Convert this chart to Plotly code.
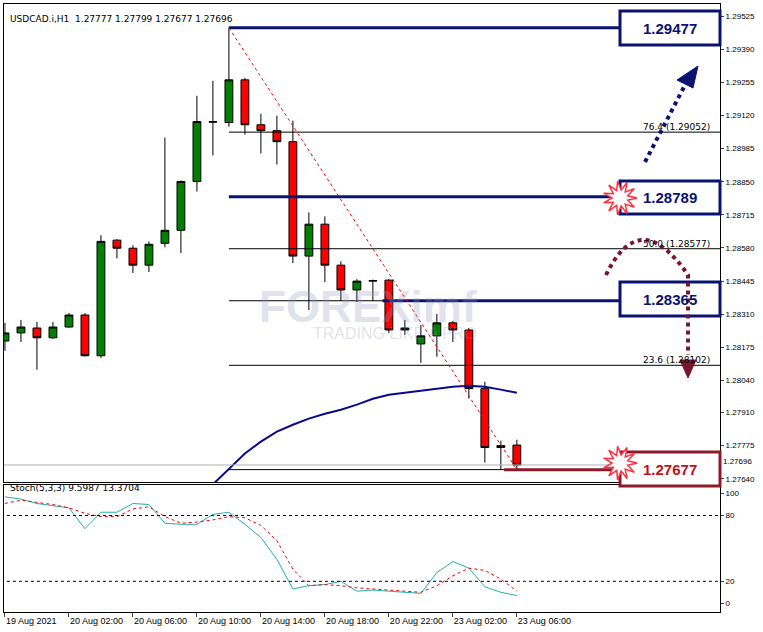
import math
import plotly.graph_objects as go
from plotly.subplots import make_subplots

times = ["19 Aug 2021", "20 Aug 02:00", "20 Aug 06:00", "20 Aug 10:00", "20 Aug 14:00",
         "20 Aug 18:00", "20 Aug 22:00", "23 Aug 02:00", "23 Aug 06:00"]
opens  = [1.28201,1.28234,1.28254,1.28214,1.28258,1.28307,1.28141,1.28612,1.28579,1.28510,1.28599,
          1.28652,1.28851,1.29095,1.29091,1.29265,1.29082,1.29058,1.29013,1.28547,1.28677,1.28510,
          1.28409,1.28445,1.28449,1.28246,1.28189,1.28222,1.28275,1.28246,1.28007,1.27767,1.27777]
highs  = [1.28275,1.28287,1.28279,1.28279,1.28315,1.28315,1.28632,1.28616,1.28591,1.28607,1.29030,
          1.28855,1.29200,1.29261,1.29477,1.29273,1.29127,1.29119,1.29099,1.28725,1.28709,1.28526,
          1.28453,1.28451,1.28453,1.28287,1.28266,1.28311,1.28283,1.28254,1.28035,1.27795,1.27799]
lows   = [1.28161,1.28197,1.28084,1.28210,1.28255,1.28138,1.28132,1.28538,1.28478,1.28482,1.28583,
          1.28559,1.28810,1.28957,1.29074,1.29042,1.28965,1.28920,1.28518,1.28327,1.28441,1.28364,
          1.28360,1.28364,1.28234,1.28226,1.28112,1.28137,1.28197,1.27966,1.27706,1.27678,1.27677]
closes = [1.28234,1.28258,1.28214,1.28258,1.28307,1.28141,1.28607,1.28579,1.28510,1.28595,1.28652,
          1.28851,1.29095,1.29093,1.29265,1.29082,1.29058,1.29013,1.28547,1.28677,1.28510,1.28409,
          1.28445,1.28447,1.28246,1.28254,1.28222,1.28275,1.28246,1.28007,1.27767,1.27775,1.27696]
ma_start = 13
ma_vals = [1.27617,1.27682,1.27743,1.27791,1.27832,1.27860,1.27885,1.27905,1.27921,1.27942,
           1.27966,1.27982,1.27990,1.27998,1.28007,1.28015,1.28019,1.28015,1.28003,1.27990]
stoch_k = [97,95,91,89,87,68,83,83,91,90,73,72,72,81,83,72,60,40,13,16,17,20,11,12,11,10,9,28,38,32,15,10,7]
stoch_d = [91,94,92,90,87,82,79,79,86,88,79,73,74,76,79,78,71,57,31,16,17,16,14,13,12,11,10,16,25,32,30,22,11]
fib_levels = [1.29477,1.29052,1.28789,1.28577,1.28365,1.28102,1.27677]
fib_names = ["100.0","76.4","61.8","50.0","38.2","23.6","0.0"]
box_levels = [1.29477,1.28789,1.28365]
target_level = 1.27677
last_price = 1.27696
yticks = [1.29525,1.29390,1.29255,1.29120,1.28985,1.28850,1.28715,1.28580,1.28445,1.28310,
          1.28175,1.28040,1.27910,1.27775,1.27640]

n = len(opens)
xs = list(range(n))
NAVY = "#0a1470"

fig = make_subplots(rows=2, cols=1, shared_xaxes=True, vertical_spacing=0.004,
                    row_heights=[0.79, 0.21])
fig.add_trace(go.Candlestick(x=xs, open=opens, high=highs, low=lows, close=closes,
    increasing=dict(fillcolor="#008000", line=dict(color="black", width=1)),
    decreasing=dict(fillcolor="#ff0000", line=dict(color="black", width=1)),
    whiskerwidth=0, showlegend=False, hoverinfo="skip"), row=1, col=1)
fig.add_trace(go.Scatter(x=xs[ma_start:], y=ma_vals, mode="lines",
    line=dict(color="#0a0a8c", width=2), showlegend=False), row=1, col=1)

for lv in fib_levels:
    fig.add_shape(type="line", x0=14, x1=44.7, y0=lv, y1=lv, xref="x", yref="y",
                  line=dict(color="black", width=1))
for lv, nm in zip(fib_levels, fib_names):
    if nm in ("76.4", "50.0", "23.6"):
        fig.add_annotation(x=44.2, y=lv, xref="x", yref="y", text=f"{nm} ({lv:.5f})",
                           showarrow=False, xanchor="right", yanchor="bottom",
                           font=dict(size=9, color="black", family="DejaVu Sans"), yshift=-2)
fig.add_shape(type="line", x0=14, x1=38.4, y0=box_levels[0], y1=box_levels[0], line=dict(color=NAVY, width=3))
fig.add_shape(type="line", x0=14, x1=38.4, y0=box_levels[1], y1=box_levels[1], line=dict(color=NAVY, width=3))
fig.add_shape(type="line", x0=23.6, x1=38.4, y0=box_levels[2], y1=box_levels[2], line=dict(color=NAVY, width=3))
fig.add_shape(type="line", x0=31.2, x1=38.4, y0=target_level, y1=target_level, line=dict(color="#8b1a2b", width=3))
fig.add_shape(type="line", x0=-1, x1=44.7, y0=last_price, y1=last_price, line=dict(color="#b0b0b0", width=1))
fig.add_shape(type="line", x0=14, x1=32, y0=highs[14], y1=target_level, line=dict(color="red", width=1, dash="dot"))

fig.add_trace(go.Scatter(x=xs, y=stoch_k, mode="lines", line=dict(color="#20b2aa", width=1), showlegend=False), row=2, col=1)
fig.add_trace(go.Scatter(x=xs, y=stoch_d, mode="lines", line=dict(color="red", width=1, dash="dot"), showlegend=False), row=2, col=1)
for lv in (80, 20):
    fig.add_shape(type="line", x0=-1, x1=44.7, y0=lv, y1=lv, xref="x2", yref="y2",
                  line=dict(color="black", width=1, dash="dot"))

W, H = 763, 632
L, R, T, B = 4, 43, 4, 20
def px(x): return (x - L) / (W - L - R)
def py(y): return (H - B - y) / (H - T - B)

for lv, (y0, y1), col, tcol in [(box_levels[0], (11, 45), NAVY, NAVY), (box_levels[1], (181, 214), NAVY, NAVY),
                                 (box_levels[2], (282, 316), NAVY, NAVY), (target_level, (452, 486), "#8b1a2b", "#c01020")]:
    fig.add_shape(type="rect", xref="paper", yref="paper", x0=px(620), x1=px(720), y0=py(y1), y1=py(y0),
                  line=dict(color=col, width=3), fillcolor="white", layer="above")
    fig.add_annotation(xref="paper", yref="paper", x=px(670), y=py((y0 + y1) / 2), text=f"<b>{lv:.5f}</b>",
                       showarrow=False, xanchor="center", yanchor="middle",
                       font=dict(size=15, color=tcol, family="Liberation Sans"))

def star_path(cx, cy, ro, ri, k=11):
    pts = []
    for i in range(2 * k):
        r = ro if i % 2 == 0 else ri
        a = math.pi * i / k
        pts.append((px(cx + r * math.cos(a)), py(cy + r * math.sin(a))))
    return "M " + " L ".join(f"{a} {b}" for a, b in pts) + " Z"
for cy in (198, 463):
    fig.add_shape(type="path", xref="paper", yref="paper", path=star_path(620, cy, 17, 8),
                  fillcolor="white", line=dict(color="#ff3040", width=1.5), layer="above")

fig.add_shape(type="line", xref="paper", yref="paper", x0=px(645), y0=py(162), x1=px(685), y1=py(85),
              line=dict(color=NAVY, width=4, dash="dot"))
fig.add_shape(type="path", xref="paper", yref="paper",
              path=f"M {px(698)} {py(66)} L {px(677)} {py(80)} L {px(693)} {py(88)} Z",
              fillcolor=NAVY, line=dict(color=NAVY, width=1))
fig.add_shape(type="path", xref="paper", yref="paper",
              path=f"M {px(606)} {py(275)} Q {px(640)} {py(205)} {px(688)} {py(275)} L {px(688)} {py(355)}",
              line=dict(color="#7a1530", width=4, dash="dot"))
fig.add_shape(type="path", xref="paper", yref="paper",
              path=f"M {px(680)} {py(360)} L {px(696)} {py(360)} L {px(688)} {py(378)} Z",
              fillcolor="#7a1530", line=dict(color="#7a1530", width=1))

fig.add_annotation(xref="paper", yref="paper", x=px(368), y=py(306), text="<b>FOREXimf</b>", showarrow=False,
                   font=dict(size=44, color="rgba(150,155,185,0.3)", family="Liberation Sans"))
fig.add_annotation(xref="paper", yref="paper", x=px(395), y=py(333), text="TRADING LIKE A PRO", showarrow=False,
                   font=dict(size=16, color="rgba(150,155,185,0.3)", family="Liberation Sans"))

fig.add_annotation(xref="paper", yref="paper", x=px(8), y=py(12),
                   text=f"USDCAD.i,H1  {opens[-1]:.5f} {highs[-1]:.5f} {lows[-1]:.5f} {closes[-1]:.5f}",
                   showarrow=False, xanchor="left", font=dict(size=9, color="black", family="DejaVu Sans"))
fig.add_annotation(xref="paper", yref="paper", x=px(8), y=py(495), text="Stoch(5,3,3) 9.5987 13.3704",
                   showarrow=False, xanchor="left", font=dict(size=9, color="black", family="DejaVu Sans"))
fig.add_annotation(xref="paper", yref="paper", x=px(722), y=py(467), text=f"{last_price:.5f}", showarrow=False,
                   xanchor="left", bgcolor="white", borderpad=0, font=dict(size=8, color="black", family="Liberation Sans"))

fig.update_layout(width=W, height=H, margin=dict(l=L, r=R, t=T, b=B, autoexpand=False),
                  plot_bgcolor="white", paper_bgcolor="white",
                  xaxis_rangeslider_visible=False, showlegend=False)
fig.update_xaxes(range=[-0.06, 44.7], showgrid=False, zeroline=False, showline=True, linecolor="black",
                 mirror=True, automargin=False)
fig.update_xaxes(tickmode="array", tickvals=list(range(0, n, 4)), ticktext=times, ticks="outside", ticklen=4,
                 ticklabelposition="outside right", tickangle=0,
                 tickfont=dict(size=9, family="Liberation Sans", color="black"), row=2, col=1)
fig.update_xaxes(showticklabels=False, row=1, col=1)
fig.update_yaxes(side="right", showgrid=False, zeroline=False, showline=True, linecolor="black", mirror=True,
                 automargin=False, ticks="outside", ticklen=3,
                 tickfont=dict(size=8, family="Liberation Sans", color="black"))
fig.update_yaxes(range=[1.27625, 1.29574], tickmode="array", tickvals=yticks,
                 ticktext=[f"{v:.5f}" for v in yticks], row=1, col=1)
fig.update_yaxes(range=[-8, 108], tickmode="array", tickvals=[0, 20, 80, 100], row=2, col=1)
fig.write_html("out.html", config={"displayModeBar": False},
               post_script="document.body.style.margin='0';document.body.style.overflow='hidden';")
